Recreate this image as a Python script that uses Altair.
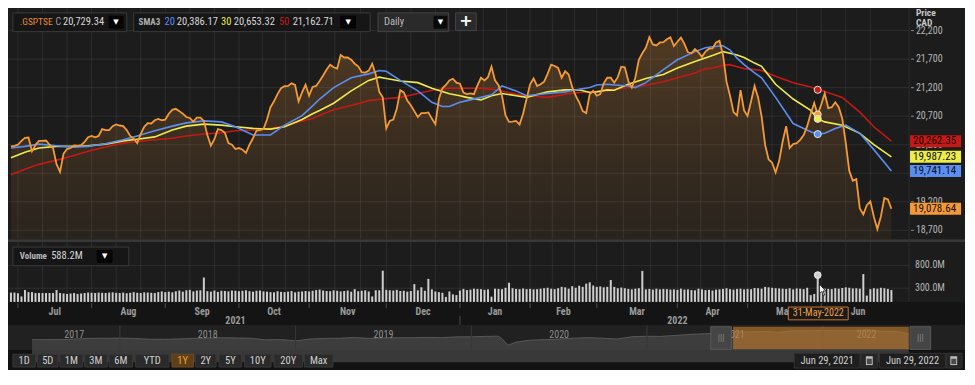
import altair as alt
import pandas as pd

# ---------------- data ----------------
# daily closes, S&P/TSX composite, trading sessions 0..251 (Jun 29 2021 .. Jun 29 2022)
close = [
    20171, 20182, 20200, 20268, 20320, 20326, 20085, 20200, 20268, 20268, 20274, 20200,
    20142, 19860, 19724, 20045, 20125, 20142, 20188, 20182, 20194, 20251, 20331, 20354,
    20331, 20354, 20474, 20457, 20457, 20526, 20555, 20537, 20526, 20457, 20354, 20308,
    20228, 20389, 20514, 20577, 20572, 20629, 20652, 20629, 20641, 20744, 20812, 20830,
    20789, 20744, 20686, 20669, 20606, 20675, 20675, 20618, 20371, 20182, 20297, 20474,
    20457, 20411, 20228, 20200, 20125, 20142, 20114, 20056, 20200, 20314, 20446, 20457,
    20474, 20641, 20858, 20961, 21087, 21190, 21225, 21230, 21276, 21248, 20961, 21116,
    21250, 21060, 21213, 21230, 21316, 21414, 21517, 21603, 21557, 21534, 21774, 21729,
    21729, 21689, 21620, 21574, 21471, 21465, 21500, 21620, 21431, 21127, 21030, 20486,
    20618, 20641, 20830, 21156, 21116, 20973, 20892, 20789, 20686, 20755, 20755, 20767,
    20658, 20561, 21001, 21190, 21248, 21328, 21356, 21288, 21270, 21116, 21087, 21099,
    21087, 21242, 21374, 21328, 21385, 21568, 21328, 21242, 21059, 20715, 20600, 20606,
    20618, 20555, 20744, 21001, 21259, 21362, 21230, 21259, 21305, 21442, 21603, 21580,
    21545, 21374, 21488, 21431, 21213, 21059, 20944, 20789, 20755, 21087, 21144, 21059,
    21087, 21276, 21374, 21374, 21288, 21385, 21568, 21557, 21316, 21202, 21374, 21689,
    21803, 21900, 22084, 21958, 21941, 21992, 21998, 22049, 22084, 21929, 22004, 22078,
    21969, 21820, 21803, 21878, 21820, 21740, 21832, 21883, 21889, 21992, 22021, 21774,
    21305, 21059, 20772, 20715, 21156, 20801, 20704, 20961, 21230, 21030, 20698, 20200,
    19942, 19885, 19713, 19913, 20257, 20526, 20142, 20211, 20228, 20286, 20371, 20526,
    20744, 20933, 20729.34, 20904, 21099, 20841, 20858, 20944, 20858, 20658, 20228, 19741,
    19570, 19598, 19083, 18980, 19140, 19209, 18940, 18722, 18940, 19266, 19243, 19078.64,
]

sma20_s = [0, 4, 8, 13, 18, 22, 27, 32, 36, 41, 46, 50, 55, 60, 64, 69, 74, 78, 83, 86,
           88, 92, 97, 102, 105, 107, 111, 116, 120, 123, 125, 128, 130, 134, 137, 140, 144, 147, 153, 158,
           162, 165, 167, 170, 172, 176, 178, 181, 186, 190, 195, 198, 200, 203, 205, 207, 209, 212, 214, 218,
           223, 228, 230, 232, 235, 238, 242, 246, 251]
sma20_v = [20142, 20171, 20211, 20182, 20159, 20171, 20217, 20286, 20354, 20446,
           20526, 20583, 20618, 20600, 20515, 20371, 20371, 20543, 20709, 20881,
           21001, 21202, 21374, 21442, 21500, 21488, 21328, 21144, 20944, 20870,
           20870, 20944, 20973, 21030, 21076, 21230, 21144, 21059, 21099, 21127,
           21173, 21202, 21248, 21259, 21248, 21230, 21202, 21288, 21517, 21689,
           21832, 21900, 21918, 21935, 21860, 21717, 21603, 21459, 21374, 21030,
           20572, 20429, 20386.17, 20400, 20486, 20543, 20400, 20114, 19741.14]

sma30_s = [0, 4, 8, 13, 18, 22, 27, 32, 36, 41, 46, 50, 55, 60, 64, 69, 74, 78, 83, 86,
           88, 92, 97, 102, 105, 107, 111, 116, 120, 125, 128, 130, 134, 137, 140, 144, 147, 153, 158, 162,
           165, 167, 170, 172, 176, 181, 186, 190, 195, 200, 203, 205, 207, 209, 212, 214, 218, 223, 228, 230,
           232, 237, 242, 246, 251]
sma30_v = [19971, 20068, 20142, 20171, 20171, 20182, 20211, 20268, 20297, 20337,
           20457, 20526, 20561, 20543, 20515, 20486, 20474, 20515, 20641, 20744,
           20801, 20927, 21144, 21328, 21385, 21362, 21316, 21288, 21190, 21093,
           21059, 21030, 20984, 21059, 21099, 21059, 21030, 21127, 21162, 21162,
           21116, 21127, 21162, 21156, 21259, 21362, 21431, 21545, 21660, 21763,
           21832, 21803, 21774, 21729, 21631, 21574, 21259, 21001, 20801, 20653.32,
           20600, 20543, 20400, 20200, 19987.23]

sma50_s = [0, 4, 8, 13, 18, 22, 27, 32, 36, 41, 46, 50, 55, 60, 64, 69, 74, 78, 83, 86,
           88, 92, 97, 102, 106, 111, 116, 120, 125, 130, 134, 139, 144, 147, 153, 158, 162, 167, 170, 172,
           176, 181, 186, 190, 195, 198, 200, 203, 205, 207, 209, 212, 214, 218, 223, 228, 230, 232, 237, 242,
           246, 251]
sma50_v = [19673, 19770, 19856, 19930, 20011, 20085, 20159, 20228, 20257, 20286,
           20314, 20354, 20389, 20411, 20446, 20457, 20486, 20526, 20615, 20658,
           20715, 20812, 20887, 20973, 21001, 21030, 21099, 21156, 21190, 21190,
           21190, 21156, 21087, 21059, 21030, 21087, 21116, 21133, 21144, 21173,
           21202, 21242, 21305, 21374, 21459, 21534, 21545, 21591, 21603, 21568,
           21534, 21517, 21500, 21402, 21288, 21213, 21162.71, 21133, 21030, 20772,
           20515, 20262.35]

# daily volume in millions of shares
volume_m = [
    205, 205, 190, 120, 260, 215, 215, 195, 195, 195, 195, 195, 195, 260, 195, 185, 175, 185, 195, 175, 185, 195, 205,
    200, 195, 205, 200, 195, 205, 210, 200, 195, 205, 190, 200, 215, 200, 195, 210, 205, 200, 195, 215, 230,
    215, 225, 210, 235, 250, 225, 255, 265, 230, 250, 255, 535, 235, 225, 250, 220, 245, 240, 230, 250, 245,
    235, 245, 255, 235, 225, 245, 250, 230, 225, 215, 210, 235, 220, 215, 225, 240, 210, 225, 230, 240,
    230, 245, 260, 270, 250, 240, 235, 255, 245, 230, 240, 250, 225, 280, 235, 245, 255, 230, 120, 255, 255, 685,
    265, 255, 250, 265, 240, 245, 225, 240, 390, 255, 320, 245, 505, 275, 230, 215, 200, 110, 230, 165, 150,
    250, 285, 260, 270, 290, 285, 280, 265, 275, 115, 290, 285, 280, 310, 420, 300, 285, 280, 295, 280,
    285, 275, 280, 290, 300, 310, 290, 280, 300, 330, 320, 290, 345, 310, 355, 330, 400, 430, 360,
    330, 340, 320, 330, 480, 330, 300, 315, 300, 285, 275, 290, 300, 680, 275, 285, 270, 290, 275, 285, 280, 270, 275,
    265, 290, 270, 275, 260, 255, 290, 275, 260, 265, 250, 270, 275, 285, 300, 280, 270, 285, 290, 275,
    285, 280, 305, 300, 290, 330, 320, 310, 300, 295, 290, 285, 300, 275, 295, 290, 280, 310, 150, 175, 588.2,
    270, 290, 285, 280, 300, 290, 305, 320, 310, 295, 300, 290, 610, 140, 280, 300, 290, 310, 300, 285, 260,
]

months = ["Jul", "Aug", "Sep", "Oct", "Nov", "Dec", "Jan", "Feb", "Mar", "Apr", "May", "Jun"]
month_start = [2, 23, 44, 65, 85, 107, 128, 148, 167, 190, 210, 231]
n_sessions = 252
years = ["2021", "2022"]
year_start = [0, 128]

price_ticks = [18700, 19200, 19700, 20200, 20700, 21200, 21700, 22200]
vol_ticks = [300, 800]
vol_tick_labels = ["300.0M", "800.0M"]

hover_session = 230
hover_date = "31-May-2022"
hover_close, hover_sma20, hover_sma30, hover_sma50, hover_vol = 20729.34, 20386.17, 20653.32, 21162.71, 588.2
last_close, last_sma20, last_sma30, last_sma50 = 19078.64, 19741.14, 19987.23, 20262.35

nav_t = [2017.50, 2017.58, 2017.67, 2017.75, 2017.83, 2017.92, 2018.00, 2018.08, 2018.17, 2018.25,
         2018.33, 2018.42, 2018.50, 2018.58, 2018.67, 2018.75, 2018.83, 2018.92, 2019.00, 2019.08,
         2019.17, 2019.25, 2019.33, 2019.42, 2019.50, 2019.58, 2019.67, 2019.75, 2019.83, 2019.92,
         2020.00, 2020.08, 2020.15, 2020.17, 2020.21, 2020.25, 2020.33, 2020.42, 2020.50, 2020.58,
         2020.67, 2020.75, 2020.83, 2020.92, 2021.00, 2021.08, 2021.17, 2021.25, 2021.33, 2021.42,
         2021.50, 2021.58, 2021.67, 2021.75, 2021.83, 2021.92, 2022.00, 2022.08, 2022.17, 2022.25,
         2022.33, 2022.42, 2022.49]
nav_v = [15180, 15144, 15212, 15635, 16026, 16067, 16209, 15952, 15443, 15367,
         15608, 16062, 16278, 16434, 16263, 16073, 15027, 15198, 14323, 15541,
         16007, 16102, 16581, 16037, 16382, 16407, 16442, 16659, 16483, 17040,
         17063, 17318, 17500, 16263, 11400, 13379, 14781, 15193, 15515, 16169,
         16514, 16121, 15581, 17190, 17433, 17337, 18060, 18701, 19108, 19731,
         20166, 20288, 20583, 20070, 21037, 21126, 21223, 21098, 21126, 21890,
         20762, 20729, 19079]
nav_years = ["2017", "2018", "2019", "2020", "2021", "2022"]
nav_year_pos = [2017.74, 2018.5, 2019.5, 2020.5, 2021.5, 2022.25]
nav_sel = [2021.49, 2022.49]

range_buttons = ["1D", "5D", "1M", "3M", "6M", "YTD", "1Y", "2Y", "5Y", "10Y", "20Y", "Max"]
active_button = "1Y"
date_from, date_to = "Jun 29, 2021", "Jun 29, 2022"

# ---------------- layout helpers (reference pixel -> canvas pixel) ----------------
W, H = 957, 362
def X(v):
    return round(v * W / 975, 2)
def Y(v):
    return round((v - 5) * H / 368, 2)

NARROW = "Liberation Sans Narrow, Roboto Condensed, Liberation Sans"
ORANGE, BLUE, YELLOW, RED = "#f39a36", "#5b8ef0", "#ecec4c", "#c21a14"

xs = alt.Scale(domain=[0, n_sessions - 1], range=[X(3), X(900)])
ys = alt.Scale(domain=[18700, 22200], range=[Y(231), Y(28)])
vs = alt.Scale(domain=[0, 800], range=[Y(303.8), Y(266.7)])
nxs = alt.Scale(domain=[2018, 2022], range=[X(114), X(830)])
nys = alt.Scale(domain=[10000, 22500], range=[Y(350), Y(331)])
units_per_px = (22200 - 18700) / (Y(231) - Y(28))
panel_floor = 18700 - (Y(240) - Y(231)) * units_per_px   # price level at the panel's bottom edge


def boxes(rows, sw=1, opacity=1):
    df = pd.DataFrame([dict(x=X(a), x2=X(b), y=Y(c), y2=Y(d), f=f, s=s) for a, b, c, d, f, s in rows])
    return alt.Chart(df).mark_rect(strokeWidth=sw, opacity=opacity).encode(
        x=alt.X("x:Q", scale=None, axis=None), x2="x2:Q",
        y=alt.Y("y:Q", scale=None, axis=None), y2="y2:Q",
        fill=alt.Fill("f:N", scale=None), stroke=alt.Stroke("s:N", scale=None))


def texts(rows, align="left", weight="normal", font=NARROW):
    df = pd.DataFrame([dict(x=X(a), y=Y(b), t=t, c=c, s=s) for a, b, t, c, s in rows])
    return alt.Chart(df).mark_text(align=align, baseline="middle", fontWeight=weight, font=font).encode(
        x=alt.X("x:Q", scale=None, axis=None), y=alt.Y("y:Q", scale=None, axis=None),
        text="t:N", color=alt.Color("c:N", scale=None), size=alt.Size("s:Q", scale=None))


layers = []

# panel backgrounds
layers.append(boxes([
    (0, 975, 5, 240, "#1c1c1c", "transparent"),
    (0, 975, 243, 304, "#1c1c1c", "transparent"),
    (0, 975, 304, 327, "#141414", "transparent"),
    (0, 975, 327, 353, "#212121", "transparent"),
    (0, 975, 353, 380, "#121212", "transparent"),
    (0, 975, 240, 243, "#383838", "transparent"),
    (917.5, 918.5, 5, 304, "#2c2c2c", "transparent"),
]))

# price area: solid fill, then a vertical fade towards the panel colour
pdf = pd.DataFrame({"session": list(range(n_sessions)), "close": close, "floor": panel_floor})
layers.append(alt.Chart(pdf).mark_area(color="#523b23", opacity=1).encode(
    x=alt.X("session:Q", scale=xs, axis=None), y=alt.Y("close:Q", scale=ys, axis=None),
    y2="floor:Q"))
fade = alt.Gradient(gradient="linear", x1=0, x2=0, y1=0, y2=1,
                    stops=[alt.GradientStop(color="rgba(28,28,28,0)", offset=0),
                           alt.GradientStop(color="rgba(28,28,28,0.45)", offset=0.55),
                           alt.GradientStop(color="rgba(28,28,28,0.76)", offset=1)])
layers.append(alt.Chart(pd.DataFrame({"a": [0]})).mark_rect(fill=fade).encode(
    x=alt.value(X(0)), x2=alt.value(X(917)), y=alt.value(Y(22)), y2=alt.value(Y(240))))

# grid
bounds = month_start + [n_sessions]
grid_s = []
for a, b in zip(bounds[:-1], bounds[1:]):
    grid_s += [a, a + (b - a) / 3, a + 2 * (b - a) / 3]
gdf = pd.DataFrame({"s": grid_s})
GRID = "rgba(255,255,255,0.075)"
for top, bot in [(5, 240), (243, 304)]:
    layers.append(alt.Chart(gdf).mark_rule(color=GRID, strokeWidth=1).encode(
        x=alt.X("s:Q", scale=xs, axis=None), y=alt.value(Y(top)), y2=alt.value(Y(bot))))
layers.append(alt.Chart(pd.DataFrame({"p": price_ticks})).mark_rule(color=GRID, strokeWidth=1).encode(
    y=alt.Y("p:Q", scale=ys, axis=None), x=alt.value(X(0)), x2=alt.value(X(918))))
layers.append(alt.Chart(pd.DataFrame({"v": vol_ticks})).mark_rule(color=GRID, strokeWidth=1).encode(
    y=alt.Y("v:Q", scale=vs, axis=None), x=alt.value(X(0)), x2=alt.value(X(918))))

# moving averages + close line
for s_list, v_list, col in [(sma50_s, sma50_v, RED), (sma30_s, sma30_v, YELLOW), (sma20_s, sma20_v, BLUE)]:
    layers.append(alt.Chart(pd.DataFrame({"session": s_list, "v": v_list})).mark_line(
        color=col, strokeWidth=1.6).encode(
        x=alt.X("session:Q", scale=xs, axis=None), y=alt.Y("v:Q", scale=ys, axis=None)))
layers.append(alt.Chart(pdf).mark_line(color=ORANGE, strokeWidth=1.8).encode(
    x=alt.X("session:Q", scale=xs, axis=None), y=alt.Y("close:Q", scale=ys, axis=None)))

# hover markers
hdf = pd.DataFrame({"session": [hover_session] * 4,
                    "v": [hover_sma50, hover_close, hover_sma30, hover_sma20],
                    "c": [RED, ORANGE, YELLOW, BLUE]})
layers.append(alt.Chart(hdf).mark_circle(size=50, opacity=1, stroke="#e6e6e6", strokeWidth=1).encode(
    x=alt.X("session:Q", scale=xs, axis=None), y=alt.Y("v:Q", scale=ys, axis=None),
    color=alt.Color("c:N", scale=None)))

# right price axis
tdf = pd.DataFrame({"p": price_ticks, "lab": [f"{p:,}" for p in price_ticks]})
layers.append(alt.Chart(tdf).mark_rule(color="#8a8a8a").encode(
    y=alt.Y("p:Q", scale=ys, axis=None), x=alt.value(X(920)), x2=alt.value(X(923))))
layers.append(alt.Chart(tdf).mark_text(align="left", baseline="middle", font=NARROW, fontSize=10,
                                       color="#b4b4b4").encode(
    y=alt.Y("p:Q", scale=ys, axis=None), x=alt.value(X(925)), text="lab:N"))
layers.append(texts([(925, 10, "Price", "#c8c8c8", 9.5), (925, 20.5, "CAD", "#c8c8c8", 9.5)], weight="bold"))

# last-value boxes
half = 6 * units_per_px
lv = [(last_sma50, RED, "#220000"), (last_sma30, YELLOW, "#111111"),
      (last_sma20, BLUE, "#0a1020"), (last_close, ORANGE, "#1a0d00")]
ldf = pd.DataFrame({"v": [a for a, _, _ in lv], "lo": [a - half for a, _, _ in lv],
                    "hi": [a + half for a, _, _ in lv], "f": [b for _, b, _ in lv],
                    "tc": [c for _, _, c in lv], "lab": [f"{a:,.2f}" for a, _, _ in lv]})
layers.append(alt.Chart(ldf).mark_rect().encode(
    y=alt.Y("lo:Q", scale=ys, axis=None), y2="hi:Q", x=alt.value(X(919)), x2=alt.value(X(971)),
    fill=alt.Fill("f:N", scale=None)))
layers.append(alt.Chart(ldf).mark_text(align="left", baseline="middle", font=NARROW, fontSize=11).encode(
    y=alt.Y("v:Q", scale=ys, axis=None), x=alt.value(X(922)), text="lab:N",
    color=alt.Color("tc:N", scale=None)))

# volume
vdf = pd.DataFrame({"session": list(range(n_sessions)), "vol": volume_m})
layers.append(alt.Chart(vdf).mark_rule(color="#cdcdcd", strokeWidth=2).encode(
    x=alt.X("session:Q", scale=xs, axis=None), y=alt.Y("vol:Q", scale=vs, axis=None),
    y2=alt.value(Y(303.8))))
layers.append(alt.Chart(pd.DataFrame({"session": [hover_session], "vol": [hover_vol]})).mark_circle(
    size=45, color="#cfcfcf", opacity=1, stroke="#eeeeee", strokeWidth=1).encode(
    x=alt.X("session:Q", scale=xs, axis=None), y=alt.Y("vol:Q", scale=vs, axis=None)))
vtdf = pd.DataFrame({"v": vol_ticks, "lab": vol_tick_labels})
layers.append(alt.Chart(vtdf).mark_text(align="left", baseline="middle", font=NARROW, fontSize=10,
                                        color="#b4b4b4").encode(
    y=alt.Y("v:Q", scale=vs, axis=None), x=alt.value(X(924)), text="lab:N"))

# x axis band: month ticks, month labels, years
mdf = pd.DataFrame({"s": month_start, "mid": [(a + b) / 2 for a, b in zip(bounds[:-1], bounds[1:])],
                    "m": months})
layers.append(alt.Chart(mdf).mark_rule(color="#4a4a4a").encode(
    x=alt.X("s:Q", scale=xs, axis=None), y=alt.value(Y(305)), y2=alt.value(Y(310))))
layers.append(alt.Chart(mdf).mark_text(font=NARROW, fontSize=10, fontWeight="bold", color="#9a9a9a",
                                       baseline="middle").encode(
    x=alt.X("mid:Q", scale=xs, axis=None), y=alt.value(Y(314)), text="m:N"))
ydf = pd.DataFrame({"s": year_start, "mid": [(year_start[0] + year_start[1]) / 2,
                                            (year_start[1] + n_sessions) / 2], "yr": years})
layers.append(alt.Chart(ydf.iloc[1:]).mark_rule(color="#4a4a4a").encode(
    x=alt.X("s:Q", scale=xs, axis=None), y=alt.value(Y(318)), y2=alt.value(Y(327))))
layers.append(alt.Chart(ydf).mark_text(font=NARROW, fontSize=10, fontWeight="bold", color="#9a9a9a",
                                       baseline="middle").encode(
    x=alt.X("mid:Q", scale=xs, axis=None), y=alt.value(Y(323)), text="yr:N"))

# hover date tag
layers.append(boxes([(795, 856, 309, 322, "#1a1a1a", "#c8782a")]))
layers.append(texts([(825.5, 315.5, hover_date, "#f0a040", 10)], align="center"))

# mouse pointer over the volume marker
arrow = "M-0.45,-1 L-0.45,0.55 L-0.08,0.2 L0.2,0.85 L0.42,0.75 L0.14,0.12 L0.6,0.12 Z"
layers.append(alt.Chart(pd.DataFrame({"a": [0]})).mark_point(
    shape=arrow, filled=True, fill="#f2f2f2", stroke="#111111", strokeWidth=0.8, size=150, opacity=1).encode(
    x=alt.value(X(829.5)), y=alt.value(Y(292))))

# navigator
ndf = pd.DataFrame({"t": nav_t, "v": nav_v})
layers.append(alt.Chart(ndf).mark_area(color="#4a4a4a", line={"color": "#575757", "strokeWidth": 1}).encode(
    x=alt.X("t:Q", scale=nxs, axis=None), y=alt.Y("v:Q", scale=nys, axis=None), y2=alt.value(Y(350))))
layers.append(alt.Chart(pd.DataFrame({"t": [2018, 2019, 2020, 2021, 2022]})).mark_rule(color="#383838").encode(
    x=alt.X("t:Q", scale=nxs, axis=None), y=alt.value(Y(328)), y2=alt.value(Y(352))))
layers.append(alt.Chart(pd.DataFrame({"t": nav_year_pos, "yr": nav_years})).mark_text(
    font=NARROW, fontSize=10, color="#8e8e8e", baseline="middle").encode(
    x=alt.X("t:Q", scale=nxs, axis=None), y=alt.value(Y(337)), text="yr:N"))
sel = pd.DataFrame({"a": [nav_sel[0]], "b": [nav_sel[1]]})
layers.append(alt.Chart(sel).mark_rect(color="#c27a2c", opacity=0.62).encode(
    x=alt.X("a:Q", scale=nxs, axis=None), x2="b:Q", y=alt.value(Y(329)), y2=alt.value(Y(352))))
layers.append(boxes([(716, 737, 329, 352, "#454545", "#5a5a5a"), (919, 940, 329, 352, "#454545", "#5a5a5a")]))
layers.append(texts([(726.5, 340.5, "|||", "#8a8a8a", 9), (929.5, 340.5, "|||", "#8a8a8a", 9)], align="center"))

# range buttons
bx = [(5, 28), (30, 51), (53, 76), (78, 101), (103, 127), (130, 164), (167, 189), (191, 212),
      (215, 238), (241, 268), (271, 300), (302, 331)]
layers.append(boxes([(a, b, 357, 370, "#5e3f18" if lab == active_button else "#2a2a2a",
                      "#6a4a20" if lab == active_button else "#383838")
                     for (a, b), lab in zip(bx, range_buttons)]))
layers.append(texts([((a + b) / 2, 363.5, lab, "#f0a040" if lab == active_button else "#d0d0d0", 10.5)
                     for (a, b), lab in zip(bx, range_buttons)], align="center"))
layers.append(boxes([(801, 868, 356, 371, "#1e1e1e", "#333333"), (888, 955, 356, 371, "#1e1e1e", "#333333"),
                     (869, 886, 356, 371, "#262626", "#333333"), (956, 972, 356, 371, "#262626", "#333333"),
                     (874, 881, 359, 368, "#bdbdbd", "transparent"), (960, 967, 359, 368, "#bdbdbd", "transparent"),
                     (875, 880, 361.5, 367, "#4a4a4a", "transparent"), (961, 966, 361.5, 367, "#4a4a4a", "transparent")]))
layers.append(texts([(834.5, 363.5, date_from, "#cfcfcf", 10.5), (921.5, 363.5, date_to, "#cfcfcf", 10.5)],
                    align="center"))

# header boxes
layers.append(boxes([
    (5, 121, 10, 29, "#161616", "#3a3a3a"),
    (128, 369, 10, 29, "#161616", "#3a3a3a"),
    (377, 449, 10, 29, "#2a2a2a", "#444444"),
    (456, 477, 10, 28, "#2a2a2a", "#444444"),
    (103, 117, 13.5, 25.5, "#050505", "#050505"),
    (339, 354, 13.5, 25.5, "#050505", "#050505"),
    (434, 447, 13.5, 25.5, "#0a0a0a", "#0a0a0a"),
    (5, 123, 248, 267, "#161616", "#3a3a3a"),
    (91, 106, 251.5, 263.5, "#050505", "#050505"),
]))
layers.append(texts([
    (12, 19.5, ".GSPTSE", "#e8892c", 9.5),
    (48.5, 19.5, "C", "#9a9a9a", 10),
    (56, 19.5, f"{hover_close:,.2f}", "#d6d6d6", 10.5),
    (159.5, 19.5, "20", BLUE, 10.5),
    (172, 19.5, f"{hover_sma20:,.2f}", "#d6d6d6", 10.5),
    (217, 19.5, "30", YELLOW, 10.5),
    (230, 19.5, f"{hover_sma30:,.2f}", "#d6d6d6", 10.5),
    (276, 19.5, "50", RED, 10.5),
    (290, 19.5, f"{hover_sma50:,.2f}", "#d6d6d6", 10.5),
    (383, 19.5, "Daily", "#b8b8b8", 10.5),
    (44, 257.5, f"{hover_vol:.1f}M", "#d6d6d6", 10.5),
]))
layers.append(texts([(133, 19.5, "SMA3", "#b0b0b0", 9), (12, 257.5, "Volume", "#b8b8b8", 9)],
                    weight="bold"))
layers.append(texts([(110, 19.5, "▼", "#ffffff", 7), (346.5, 19.5, "▼", "#ffffff", 7),
                     (440.5, 19.5, "▼", "#ffffff", 7), (98.5, 257.5, "▼", "#ffffff", 7)],
                    align="center", font="DejaVu Sans"))
layers.append(texts([(466.5, 18.5, "+", "#ffffff", 16)], align="center", weight="bold", font="DejaVu Sans"))

chart = alt.layer(*layers).resolve_scale(x="independent", y="independent").properties(
    width=W, height=H, padding=0, background="#0d0d0d",
    autosize=alt.AutoSizeParams(type="none"),
).configure_view(strokeWidth=0)

chart.save("out.html", embed_options={"renderer": "svg", "actions": False})
